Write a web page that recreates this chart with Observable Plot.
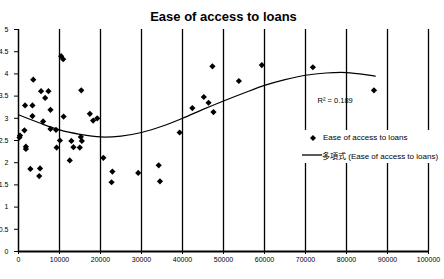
<!DOCTYPE html>
<html><head><meta charset="utf-8">
<script src="https://cdn.jsdelivr.net/npm/d3@7"></script>
<script src="https://cdn.jsdelivr.net/npm/@observablehq/plot@0.6"></script>
<style>
body{margin:0;background:#fff;}
#wrap{position:relative;width:444px;height:279px;font-family:"Liberation Sans",Arial,sans-serif;}
#legend{position:absolute;left:300px;top:130px;width:144px;height:33px;background:#fff;font-size:8px;color:#000;}
#legend .row{position:absolute;left:0;white-space:nowrap;}
#legend .cjk{font-family:"Noto Sans CJK TC","Noto Sans CJK JP",sans-serif;}
</style></head><body><div id="wrap"></div>
<script>
const xValues = [10400,10900,3600,5500,7300,6500,1600,3400,7800,15300,3400,6000,11000,17400,18200,19200,7800,9150,1450,370,240,10100,1800,1800,9300,12900,15200,15450,13400,14950,12500,2900,5250,5050,20700,22900,22700,29200,34200,34500,39300,42400,45200,46350,47550,47300,53750,59350,71800,86700];
const yValues = [4.40,4.33,3.87,3.61,3.61,3.46,3.29,3.29,3.19,3.63,3.05,2.93,3.04,3.10,2.95,3.00,2.76,2.74,2.73,2.61,2.57,2.50,2.36,2.31,2.34,2.49,2.58,2.49,2.35,2.34,2.05,1.86,1.87,1.70,2.11,1.80,1.56,1.77,1.94,1.58,2.68,3.23,3.48,3.35,3.14,4.17,3.84,4.20,4.15,3.63];
const trendX = [0,5000,10000,15000,20000,25000,30000,35000,40000,45000,50000,55000,60000,65000,70000,75000,80000,85000,87000];
const trendY = [3.08,2.90,2.74,2.64,2.58,2.60,2.68,2.82,3.00,3.20,3.39,3.57,3.74,3.87,3.97,4.02,4.03,3.98,3.95];
const xTicks = [0,10000,20000,30000,40000,50000,60000,70000,80000,90000,100000];
const yTicks = [0,0.5,1,1.5,2,2.5,3,3.5,4,4.5,5];
const titleText = "Ease of access to loans";
const seriesLabel = "Ease of access to loans";
const trendLabel = "多項式 (Ease of access to loans)";
const r2Label = "R² = 0.189";

const points = xValues.map((x, i) => ({x, y: yValues[i]}));
const trend = trendX.map((x, i) => ({x, y: trendY[i]}));

const chart = Plot.plot({
  width: 444, height: 279,
  marginLeft: 18, marginRight: 16, marginTop: 29, marginBottom: 28,
  style: {fontFamily: "Liberation Sans, Arial, sans-serif", fontSize: "7px", color: "#000", background: "#fff", overflow: "visible"},
  x: {domain: [0, 100000], ticks: xTicks, tickFormat: d => String(d), tickSize: 3, tickPadding: 3, label: null},
  y: {domain: [0, 5], ticks: yTicks, tickFormat: d => String(d), tickSize: 4, tickPadding: 6, label: null},
  marks: [
    Plot.ruleX(xTicks.slice(1), {stroke: "#000", strokeWidth: 1.3}),
    Plot.ruleX([0], {stroke: "#000", strokeWidth: 1.5}),
    Plot.ruleY([0], {stroke: "#000", strokeWidth: 2}),
    Plot.line(trend, {x: "x", y: "y", curve: "catmull-rom", stroke: "#000", strokeWidth: 1.2}),
    Plot.dot(points, {x: "x", y: "y", symbol: "diamond2", r: 2.8, fill: "#000", stroke: "none"}),
    Plot.text([r2Label], {text: d => d, frameAnchor: "top-left", dx: 299, dy: 68, textAnchor: "start", fontSize: 7.5}),
    Plot.text([titleText], {text: d => d, frameAnchor: "top", dy: -18, fontSize: 13, fontWeight: "bold"})
  ]
});
const wrap = document.getElementById("wrap");
wrap.appendChild(chart);

const legend = document.createElement("div");
legend.id = "legend";
legend.innerHTML =
  `<svg width="144" height="33" style="position:absolute;left:0;top:0">
     <path d="M13,5 L16,8 L13,11 L10,8 Z" fill="#000"/>
     <line x1="2" y1="25" x2="22" y2="25" stroke="#000" stroke-width="1.3"/>
   </svg>
   <div class="row" style="left:23px;top:3px">${seriesLabel}</div>
   <div class="row" style="left:22px;top:20px"><span class="cjk">${trendLabel.slice(0,3)}</span>${trendLabel.slice(3)}</div>`;
wrap.appendChild(legend);
</script>
</body></html>
